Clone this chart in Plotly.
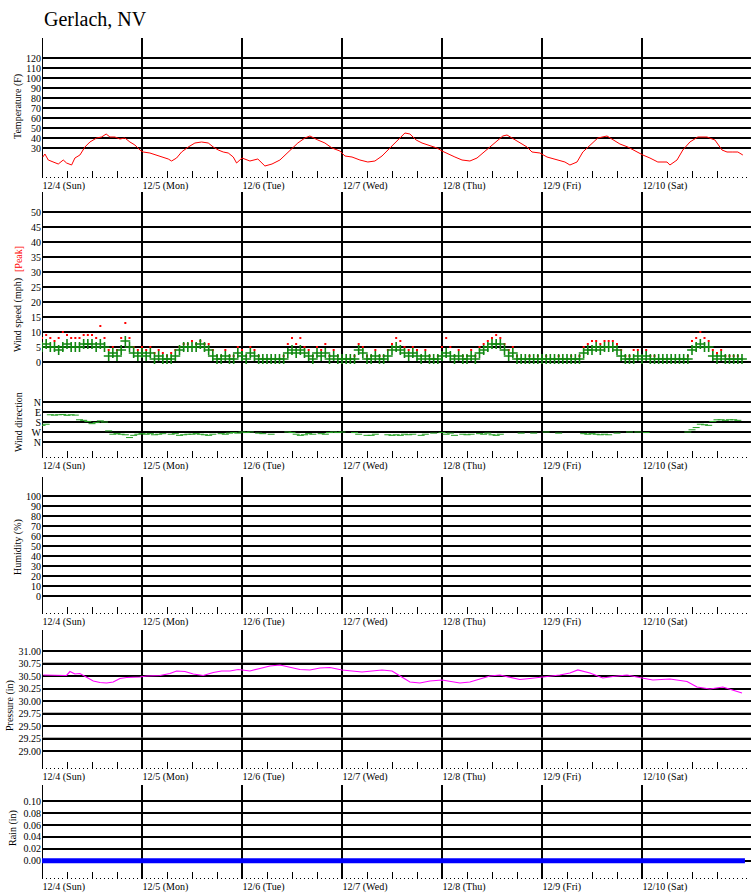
import plotly.graph_objects as go

# ---------------- data ----------------
station = 'Gerlach, NV'
day_labels = ['12/4 (Sun)', '12/5 (Mon)', '12/6 (Tue)', '12/7 (Wed)', '12/8 (Thu)', '12/9 (Fri)', '12/10 (Sat)']

# temperature, hours since 12/4 00:00
temp_hours = [0.2, 0.7, 1.5, 2.7, 3.9, 5.1, 5.9, 7.1, 7.9, 9.1, 10.3, 11.5, 13.1, 14.3, 15.4, 16.3, 17.5, 18.7,
              19.9, 21.1, 22.3, 23.5,
              24.3, 25.9, 27.5, 29.1, 30.3, 31.1, 32.3, 33.5, 35.1, 36.7, 38.3, 39.9, 41.1, 42.3, 43.5, 44.7,
              45.9, 46.7, 47.5,
              48.0, 49.9, 51.8, 53.5, 55.2, 57.1, 59.5, 61.4, 63.1, 64.3, 66.2, 67.9, 69.6, 71.5,
              72.7, 74.4, 76.3, 78.2, 79.9, 81.6, 83.5, 85.4, 87.1, 88.3, 89.8, 91.2, 93.1, 94.8, 96.0,
              97.4, 99.1, 100.8, 102.7, 104.4, 105.8, 107.5, 109.4, 110.6, 111.6, 112.8, 114.7, 116.4, 117.6,
              119.5,
              121.2, 123.6, 125.5, 126.7, 128.4, 129.8, 131.5, 133.4, 135.6, 137.0, 138.7, 140.6, 142.8, 144.2,
              145.9, 147.8, 150.0, 150.7, 152.4, 153.8, 155.5, 157.4, 159.6, 161.5, 163.2, 164.4, 165.8, 167.0,
              168.2]
temp_f = [21, 24, 18, 16, 14, 18, 15, 13, 20, 23, 31, 36, 40, 41, 44, 41, 41, 39,
          40, 36, 33, 28,
          26, 25, 23, 21, 19, 17, 20, 26, 31, 35, 36, 35, 31, 28, 26, 25,
          21, 15, 18,
          20, 17, 19, 12, 14, 18, 28, 35, 40, 42, 38, 35, 30, 27,
          22, 21, 18, 16, 17, 22, 30, 38, 45, 44, 38, 35, 32, 30, 27,
          24, 21, 18, 17, 20, 25, 31, 38, 42, 43, 40, 36, 31, 26,
          25,
          21, 18, 16, 13, 16, 26, 33, 40, 42, 38, 34, 31, 26, 23,
          20, 16, 16, 13, 18, 28, 36, 41, 41, 38, 28, 26, 26, 26,
          23]

# wind, hourly
wind_hours = list(range(169))
wind_avg = [5, 6, 5, 5, 4, 5, 6, 5, 5, 5, 6, 6, 6, 5, 6, 5, 2, 3, 2, 4, 7, 5, 3, 2,
            3, 2, 3, 1, 2, 1, 1, 1, 2, 4, 5, 5, 5, 5, 6, 5, 4, 2, 1, 1, 2, 1, 1, 3,
            2, 1, 3, 2, 1, 1, 1, 1, 1, 1, 1, 3, 4, 3, 4, 3, 2, 1, 3, 2, 3, 1, 2, 1,
            1, 1, 1, 1, 4, 3, 1, 1, 2, 1, 1, 2, 4, 5, 4, 3, 2, 3, 2, 1, 2, 1, 1, 1,
            2, 3, 2, 1, 2, 1, 1, 2, 1, 3, 4, 5, 6, 6, 6, 4, 2, 3, 1, 1, 1, 1, 1, 1,
            1, 1, 1, 1, 1, 1, 1, 1, 1, 1, 3, 4, 4, 5, 4, 5, 5, 5, 4, 2, 1, 1, 1, 2,
            1, 2, 1, 1, 1, 1, 1, 1, 1, 1, 1, 1, 4, 5, 6, 5, 5, 2, 1, 2, 1, 1, 1, 1, 1]
wind_peak = [8, 9, 8, 7, 8, 10, 9, 8, 8, 8, 9, 9, 9, 8, 12, 8, 4, 5, 4, 8, 13, 8, 5, 4,
             5, 4, 5, 3, 4, 3, 2, 3, 4, 5, 6, 6, 7, 6, 7, 6, 6, 4, 2, 2, 4, 2, 2, 5,
             4, 2, 5, 4, 2, 1, 1, 1, 1, 1, 2, 6, 8, 6, 8, 5, 4, 2, 5, 4, 6, 2, 4, 2,
             1, 1, 1, 2, 6, 5, 2, 2, 4, 2, 2, 4, 6, 8, 7, 5, 4, 5, 4, 2, 4, 2, 1, 2,
             5, 8, 5, 2, 4, 2, 2, 4, 2, 5, 6, 7, 8, 9, 8, 6, 4, 5, 2, 1, 1, 2, 1, 2,
             1, 2, 1, 1, 2, 1, 1, 2, 1, 2, 5, 6, 7, 7, 6, 7, 7, 7, 6, 4, 2, 2, 4, 4,
             2, 4, 2, 2, 1, 1, 1, 1, 1, 1, 1, 2, 7, 8, 10, 8, 7, 4, 3, 4, 2, 2, 2, 2, 1]
wind_dir = [210, 200, 115, 118, 115, 112, 120, 115, 118, 160, 165, 175, 195, 185, 170, 180, 260, 290, 285, 290,
            295, 320, 300, 290,
            285, 290, 285, 295, 290, 285, None, 290, 285, 300, 295, 290, 290, 285, 290, 295, 300, 290, None, 285,
            290, 280, 275, 280,
            270, 275, 270, None, 280, 285, None, 290, None, None, None, 270, 275, 290, 300, 295, 285, 290, None,
            285, 290, 275, 270, 275,
            270, None, None, 275, 290, None, 300, 300, 290, None, None, 295, 300, 295, 300, 290, 295, 290, None,
            300, 290, None, 280, None,
            275, 290, 280, 300, None, 290, 295, 290, None, 285, 290, 280, 295, 300, 290, None, None, None, None,
            280, None, None, 280, None,
            None, 270, None, None, 280, None, None, None, None, None, 285, 290, 285, 290, 295, 290, 295, None,
            280, None, None, 270, None, 270,
            None, 275, None, None, None, None, None, None, None, None, None, 270, 250, 230, 200, 205, 210, 175,
            160, 160, 165, 160, 160, 165, None]

humidity_hours = []
humidity_pct = []

pressure_hours = [0.3, 3.5, 5.9, 6.7, 7.9, 9.1, 10.7, 12.3, 13.9, 15.5, 17.1, 18.7, 20.3, 21.9, 23.5,
                  25.1, 28.3, 30.7, 32.3, 34.3, 36.3, 38.7, 41.1, 43.1, 45.1, 47.1,
                  49.9, 52.3, 54.7, 57.1, 59.5, 61.9, 64.3, 66.7, 69.1, 72.0,
                  74.4, 76.8, 79.2, 81.6, 84.0, 85.9, 88.3, 90.7, 93.1, 96.0,
                  97.9, 100.3, 102.7, 105.1, 107.5, 109.9, 112.3, 114.7, 117.1, 120.0,
                  121.9, 124.3, 126.7, 128.6, 131.5, 134.6, 137.0, 140.4, 144.0,
                  146.6, 150.7, 154.8, 157.2, 160.3, 163.4, 165.8, 168.0]
pressure_in = [30.52, 30.52, 30.51, 30.59, 30.54, 30.55, 30.47, 30.40, 30.37, 30.36, 30.38, 30.45, 30.47, 30.47, 30.48,
               30.50, 30.51, 30.55, 30.60, 30.59, 30.54, 30.51, 30.57, 30.60, 30.60, 30.63,
               30.60, 30.65, 30.70, 30.72, 30.68, 30.63, 30.62, 30.66, 30.67, 30.62,
               30.60, 30.58, 30.60, 30.62, 30.60, 30.50, 30.38, 30.36, 30.40, 30.42,
               30.40, 30.36, 30.38, 30.44, 30.50, 30.52, 30.47, 30.43, 30.45, 30.48,
               30.50, 30.52, 30.56, 30.62, 30.56, 30.46, 30.49, 30.52, 30.46,
               30.42, 30.44, 30.39, 30.28, 30.24, 30.28, 30.21, 30.16]

rain_hours = [0.0, 168.7]
rain_in = [0.00, 0.00]

# axis ticks
temp_ticks = [30, 40, 50, 60, 70, 80, 90, 100, 110, 120]
wind_ticks = [0, 5, 10, 15, 20, 25, 30, 35, 40, 45, 50]
wind_gray = [5, 15, 25, 35, 45]
dir_ticks = [0, 90, 180, 270, 360]
dir_labels = ['N', 'E', 'S', 'W', 'N']
hum_ticks = [0, 10, 20, 30, 40, 50, 60, 70, 80, 90, 100]
pres_ticks = [29.00, 29.25, 29.50, 29.75, 30.00, 30.25, 30.50, 30.75, 31.00]
pres_gray = [29.25, 29.50, 29.75, 30.00, 30.50, 30.75]
rain_ticks = [0.00, 0.02, 0.04, 0.06, 0.08, 0.10]

# ---------------- layout geometry (pixels) ----------------
W, H = 751, 895
LEFT = 42
X_MAX = (W - LEFT) * 24 / 100.0     # 100 px per day
FONT = 'Liberation Serif'
GRAY = '#6a6a6a'


def py(px):
    return 1 - px / H


def px_x(px):
    return px / W


def yrange(top, bottom, ref_val, ref_px, px_per_unit):
    return [ref_val - (bottom - ref_px) / px_per_unit, ref_val + (ref_px - top) / px_per_unit]


# panel: (top px, bottom px, value range)
panels = [
    (38, 178, yrange(38, 178, 30, 148, 1.0)),
    (192, 458, yrange(192, 458, 0, 362, 3.0)),
    (477, 614, yrange(477, 614, 0, 596, 1.0)),
    (630, 769, yrange(630, 769, 31.0, 651, 50.0)),
    (785, 879, yrange(785, 879, 0.0, 860.7, 594.0)),
]

fig = go.Figure()

fig.add_trace(go.Scatter(x=temp_hours, y=temp_f, mode='lines', line=dict(color='#ff0000', width=1),
                         xaxis='x', yaxis='y', showlegend=False))
fig.add_trace(go.Scatter(x=wind_hours, y=wind_peak, mode='markers',
                         marker=dict(color='#ff0000', size=2, symbol='square'),
                         xaxis='x2', yaxis='y2', showlegend=False))
fig.add_trace(go.Scatter(x=wind_hours, y=wind_avg, mode='markers',
                         marker=dict(color='#008000', size=7, symbol='cross-thin', line=dict(color='#118811', width=1.6)),
                         xaxis='x2', yaxis='y2', showlegend=False))
fig.add_trace(go.Scatter(x=wind_hours, y=wind_dir, mode='markers',
                         marker=dict(color='#22a022', size=5, symbol='line-ew', line=dict(color='#22a022', width=1)),
                         xaxis='x2', yaxis='y6', showlegend=False))
fig.add_trace(go.Scatter(x=humidity_hours, y=humidity_pct, mode='lines', line=dict(color='#0000ff', width=1),
                         xaxis='x3', yaxis='y3', showlegend=False))
fig.add_trace(go.Scatter(x=pressure_hours, y=pressure_in, mode='lines', line=dict(color='#ff00ff', width=1.2),
                         xaxis='x4', yaxis='y4', showlegend=False))
fig.add_trace(go.Scatter(x=rain_hours, y=rain_in, mode='lines', line=dict(color='#0000ff', width=5),
                         xaxis='x5', yaxis='y5', showlegend=False))

day_hours = [24 * i for i in range(len(day_labels))]
six_hours = list(range(0, 168, 6))
six_text = [day_labels[h // 24] if h % 24 == 0 else '' for h in six_hours]

ytick_sets = [
    (temp_ticks, [str(v) for v in temp_ticks]),
    (wind_ticks, [str(v) for v in wind_ticks]),
    (hum_ticks, [str(v) for v in hum_ticks]),
    (pres_ticks, [f'{v:.2f}' for v in pres_ticks]),
    (rain_ticks, [f'{v:.2f}' for v in rain_ticks]),
]

axes = {}
shapes = []
for i, (top, bottom, rng) in enumerate(panels, start=1):
    sfx = '' if i == 1 else str(i)
    axes[f'xaxis{sfx}'] = dict(
        domain=[px_x(LEFT), 1], range=[0, X_MAX], anchor=f'y{sfx}', showgrid=False, zeroline=False,
        showline=False, tickmode='array', tickvals=six_hours, ticktext=six_text,
        ticks='inside', ticklen=7, tickwidth=1, tickcolor='black',
        ticklabelposition='outside right', tickfont=dict(family=FONT, size=10, color='black'),
        minor=dict(tickmode='linear', tick0=0, dtick=1, ticks='inside', ticklen=1, tickwidth=1, tickcolor='black'),
        automargin=False, fixedrange=True)
    vals, text = ytick_sets[i - 1]
    axes[f'yaxis{sfx}'] = dict(
        domain=[py(bottom), py(top)], range=rng, anchor=f'x{sfx}', tickmode='array', tickvals=vals, ticktext=text,
        showgrid=True, gridcolor='black', gridwidth=2, zeroline=False, showline=False, ticks='',
        tickfont=dict(family=FONT, size=10, color='black'), automargin=False, fixedrange=True)
    for h in day_hours:
        shapes.append(dict(type='line', xref=f'x{sfx}', yref=f'y{sfx} domain', x0=h, x1=h, y0=0, y1=1,
                           line=dict(color='black', width=2), layer='below'))

for v in wind_gray:
    shapes.append(dict(type='line', xref='x2 domain', yref='y2', x0=0, x1=1, y0=v, y1=v,
                       line=dict(color=GRAY, width=2), layer='below'))
for v in pres_gray:
    shapes.append(dict(type='line', xref='x4 domain', yref='y4', x0=0, x1=1, y0=v, y1=v,
                       line=dict(color=GRAY, width=2), layer='below'))

# wind direction: N at 402 px, 10 px per 90 degrees, reversed
top, bottom = panels[1][0], panels[1][1]
dir_rng = yrange(top, bottom, 0, 402, -10 / 90.0)
axes['yaxis6'] = dict(
    overlaying='y2', anchor='x2', side='left', range=dir_rng, tickmode='array', tickvals=dir_ticks,
    ticktext=dir_labels, showgrid=True, gridcolor='black', gridwidth=2, zeroline=False, showline=False,
    ticks='', tickfont=dict(family=FONT, size=10, color='black'), automargin=False, fixedrange=True)

annotations = [
    dict(text=station, x=px_x(LEFT), y=py(19), xanchor='left', yanchor='middle',
         font=dict(family=FONT, size=20, color='black')),
    dict(text='Temperature (F)', x=px_x(18), y=py(107), textangle=-90),
    dict(text='Wind speed (mph)', x=px_x(18), y=py(315), textangle=-90),
    dict(text='[Peak]', x=px_x(18), y=py(259), textangle=-90, font=dict(family=FONT, size=10, color='#ff0000')),
    dict(text='Wind direction', x=px_x(18), y=py(422), textangle=-90),
    dict(text='Humidity (%)', x=px_x(18), y=py(547), textangle=-90),
    dict(text='Pressure (in)', x=px_x(10), y=py(706), textangle=-90),
    dict(text='Rain (in)', x=px_x(13), y=py(828), textangle=-90),
]
for a in annotations:
    a.setdefault('xref', 'paper')
    a.setdefault('yref', 'paper')
    a.setdefault('showarrow', False)
    a.setdefault('font', dict(family=FONT, size=10, color='black'))
    a.setdefault('xanchor', 'center')
    a.setdefault('yanchor', 'middle')

fig.update_layout(width=W, height=H, margin=dict(l=0, r=0, t=0, b=0, pad=0),
                  paper_bgcolor='white', plot_bgcolor='rgba(0,0,0,0)',
                  font=dict(family=FONT, size=10, color='black'),
                  showlegend=False, shapes=shapes, annotations=annotations, **axes)

# page body has a default 8px margin; drop it so the figure sits at the window corner
fig.write_html('out.html', config={'displayModeBar': False},
               post_script="document.body.style.margin='0px';document.body.style.overflow='hidden';")
